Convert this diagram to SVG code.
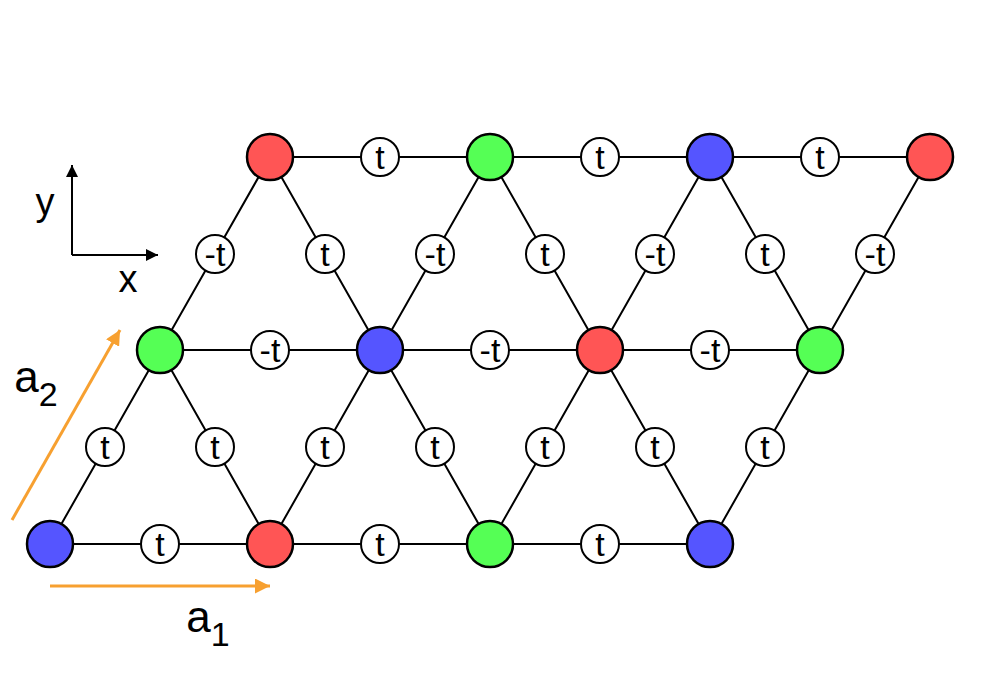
<svg xmlns="http://www.w3.org/2000/svg" width="985" height="691" viewBox="0 0 985 691">
<style>
.e{stroke:#000;stroke-width:2;fill:none}
.n{stroke:#000;stroke-width:2.5}
.r{fill:#ff5555}.g{fill:#55ff55}.b{fill:#5555ff}
.l circle{fill:#fff;stroke:#000;stroke-width:2}
.l text,.t{font-family:"Liberation Sans",Arial,sans-serif;font-size:34px;text-anchor:middle}
.a{stroke:#f7a030;stroke-width:3;fill:none}
</style>
<defs>
<marker id="k" viewBox="0 0 10 10" refX="10" refY="5" markerWidth="6" markerHeight="6" orient="auto"><path d="M0,0L10,5L0,10z" fill="#000"/></marker>
<marker id="o" viewBox="0 0 10 10" refX="10" refY="5" markerWidth="5" markerHeight="5" orient="auto"><path d="M0,0L10,5L0,10z" fill="#f7a030"/></marker>
</defs>
<g id="connectors">
<path class="e" d="M50,544H710M160,350H820M270,157H930M50,544L270,157M270,544L490,157M490,544L710,157M710,544L930,157M160,350L270,544M270,157L490,544M490,157L710,544M710,157L820,350"/>
<path class="a" d="M50,586H270" marker-end="url(#o)"/>
<path class="a" d="M12,520L120,330" marker-end="url(#o)"/>
<path class="e" d="M72,255V165" marker-end="url(#k)"/>
<path class="e" d="M72,255H158" marker-end="url(#k)"/>
</g>
<g id="labels" class="l">
<g><circle cx="160" cy="544" r="19"/><text x="160" y="556">t</text></g>
<g><circle cx="380" cy="544" r="19"/><text x="380" y="556">t</text></g>
<g><circle cx="600" cy="544" r="19"/><text x="600" y="556">t</text></g>
<g><circle cx="270" cy="350" r="19"/><text x="270" y="362">-t</text></g>
<g><circle cx="490" cy="350" r="19"/><text x="490" y="362">-t</text></g>
<g><circle cx="710" cy="350" r="19"/><text x="710" y="362">-t</text></g>
<g><circle cx="380" cy="157" r="19"/><text x="380" y="169">t</text></g>
<g><circle cx="600" cy="157" r="19"/><text x="600" y="169">t</text></g>
<g><circle cx="820" cy="157" r="19"/><text x="820" y="169">t</text></g>
<g><circle cx="105" cy="447" r="19"/><text x="105" y="459">t</text></g>
<g><circle cx="215" cy="447" r="19"/><text x="215" y="459">t</text></g>
<g><circle cx="325" cy="447" r="19"/><text x="325" y="459">t</text></g>
<g><circle cx="435" cy="447" r="19"/><text x="435" y="459">t</text></g>
<g><circle cx="545" cy="447" r="19"/><text x="545" y="459">t</text></g>
<g><circle cx="655" cy="447" r="19"/><text x="655" y="459">t</text></g>
<g><circle cx="765" cy="447" r="19"/><text x="765" y="459">t</text></g>
<g><circle cx="215" cy="254" r="19"/><text x="215" y="266">-t</text></g>
<g><circle cx="325" cy="254" r="19"/><text x="325" y="266">t</text></g>
<g><circle cx="435" cy="254" r="19"/><text x="435" y="266">-t</text></g>
<g><circle cx="545" cy="254" r="19"/><text x="545" y="266">t</text></g>
<g><circle cx="655" cy="254" r="19"/><text x="655" y="266">-t</text></g>
<g><circle cx="765" cy="254" r="19"/><text x="765" y="266">t</text></g>
<g><circle cx="875" cy="254" r="19"/><text x="875" y="266">-t</text></g>
</g>
<g id="n1"><circle class="n b" cx="50" cy="544" r="23"/></g>
<g id="n2"><circle class="n r" cx="270" cy="544" r="23"/></g>
<g id="n3"><circle class="n g" cx="490" cy="544" r="23"/></g>
<g id="n4"><circle class="n b" cx="710" cy="544" r="23"/></g>
<g id="n5"><circle class="n g" cx="160" cy="350" r="23"/></g>
<g id="n6"><circle class="n b" cx="380" cy="350" r="23"/></g>
<g id="n7"><circle class="n r" cx="600" cy="350" r="23"/></g>
<g id="n8"><circle class="n g" cx="820" cy="350" r="23"/></g>
<g id="n9"><circle class="n r" cx="270" cy="157" r="23"/></g>
<g id="n10"><circle class="n g" cx="490" cy="157" r="23"/></g>
<g id="n11"><circle class="n b" cx="710" cy="157" r="23"/></g>
<g id="n12"><circle class="n r" cx="930" cy="157" r="23"/></g>
<g id="text">
<text class="t" x="45" y="215" style="font-size:38px">y</text>
<text class="t" x="128" y="292" style="font-size:38px">x</text>
<text class="t" x="36" y="392" style="font-size:44px">a<tspan dy="14" font-size="34">2</tspan></text>
<text class="t" x="208" y="632" style="font-size:44px">a<tspan dy="14" font-size="34">1</tspan></text>
</g>
</svg>
